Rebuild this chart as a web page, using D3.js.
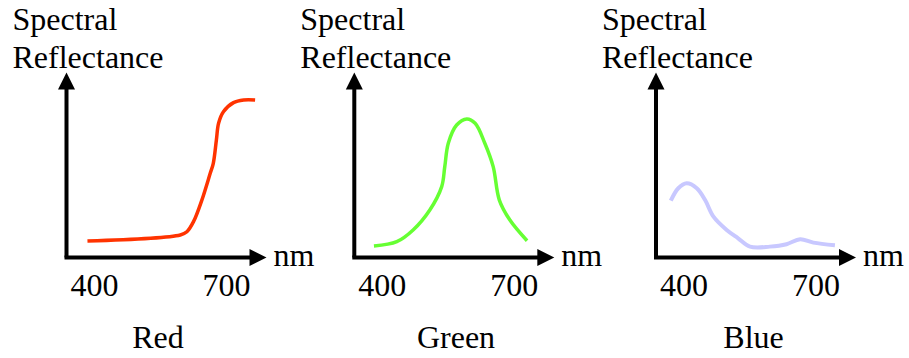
<!DOCTYPE html>
<html>
<head>
<meta charset="utf-8">
<script src="https://cdn.jsdelivr.net/npm/d3@7"></script>
<style>
  html, body { margin: 0; padding: 0; background: #fff; }
  svg { display: block; }
  text { font-family: "Liberation Serif", "Times New Roman", serif; font-size: 32px; fill: #000; }
</style>
</head>
<body>
<svg id="chart" width="909" height="358"></svg>
<script>
// Spectral reflectance curves (wavelength in nm, reflectance in %)
const redNm     = [384, 595, 610, 625, 644, 663, 670, 677, 682, 693, 716, 739, 765];
const redRefl   = [10.3, 14.1, 16.1, 22.4, 35.9, 52.6, 58.9, 73.4, 83.9, 91.1, 96.8, 98.4, 98.4];

const greenNm   = [381, 433, 470, 508, 535, 542, 550, 569, 592, 611, 633, 652, 666, 690, 729];
const greenRefl = [7.2, 9.9, 17.2, 29.7, 44.3, 56.8, 71.4, 82.8, 86.6, 83.9, 71.4, 56.8, 35.9, 23.4, 10.5];

const blueNm    = [370, 387, 406, 429, 448, 467, 497, 523, 550, 595, 633, 664, 694, 743];
const blueRefl  = [35.5, 43.3, 46.4, 43.3, 35.9, 25.5, 17.2, 12.0, 6.8, 6.8, 8.3, 11.4, 9.3, 7.6];

const panelNames = ["Red", "Green", "Blue"];
const tickValues = [400, 700];
const axisTitle  = ["Spectral", "Reflectance"];
const unitLabel  = "nm";

// panel layout: origin x and caption centre x
const panels = [
  { name: panelNames[0], nm: redNm,   refl: redRefl,   color: "#ff3300", width: 3.5, ox: 66.5,  cx: 158 },
  { name: panelNames[1], nm: greenNm, refl: greenRefl, color: "#66ff33", width: 3.5, ox: 354.3, cx: 456 },
  { name: panelNames[2], nm: blueNm,  refl: blueRefl,  color: "#c8c8ff", width: 4,   ox: 656,   cx: 753.5 }
];

const svg = d3.select("#chart");
const oy = 257.5;          // baseline of every panel
const axisLen = 200;       // horizontal axis length
const yAxisLen = 185;      // vertical axis length

// x: wavelength -> px from the origin; y: reflectance -> px above baseline
const x = d3.scaleLinear().domain([400, 700]).range([28, 160]);
const y = d3.scaleLinear().domain([0, 100]).range([0, -160]);

panels.forEach(p => {
  const g = svg.append("g").attr("transform", `translate(${p.ox},${oy})`);

  // axes
  const ah = 17, aw = 8.5;
  g.append("line").attr("x1", 0).attr("y1", 0).attr("x2", 0).attr("y2", -(yAxisLen - ah + 1))
    .attr("stroke", "#000").attr("stroke-width", 4);
  g.append("line").attr("x1", -2).attr("y1", 0).attr("x2", axisLen - ah + 1).attr("y2", 0)
    .attr("stroke", "#000").attr("stroke-width", 4);
  g.append("path")
    .attr("d", `M0,${-yAxisLen} L${-aw},${-yAxisLen + ah} L${aw},${-yAxisLen + ah} Z`)
    .attr("fill", "#000");
  g.append("path")
    .attr("d", `M${axisLen},0 L${axisLen - ah},${-aw} L${axisLen - ah},${aw} Z`)
    .attr("fill", "#000");

  // curve
  const pts = p.nm.map((d, i) => [x(d), y(p.refl[i])]);
  g.append("path")
    .attr("d", d3.line().curve(d3.curveCatmullRom.alpha(0.5))(pts))
    .attr("fill", "none")
    .attr("stroke", p.color)
    .attr("stroke-width", p.width)
    .attr("stroke-linecap", "butt")
    .attr("stroke-linejoin", "round");

  // labels
  g.append("text").attr("x", -54).attr("y", 29.5 - oy).text(axisTitle[0]);
  g.append("text").attr("x", -54).attr("y", 67.5 - oy).text(axisTitle[1]);
  g.append("text").attr("x", 207).attr("y", 8).text(unitLabel);
  tickValues.forEach(t => {
    g.append("text").attr("x", x(t)).attr("y", 38).attr("text-anchor", "middle").text(t);
  });
  g.append("text").attr("x", p.cx - p.ox).attr("y", 90.5).attr("text-anchor", "middle").text(p.name);
});
</script>
</body>
</html>
